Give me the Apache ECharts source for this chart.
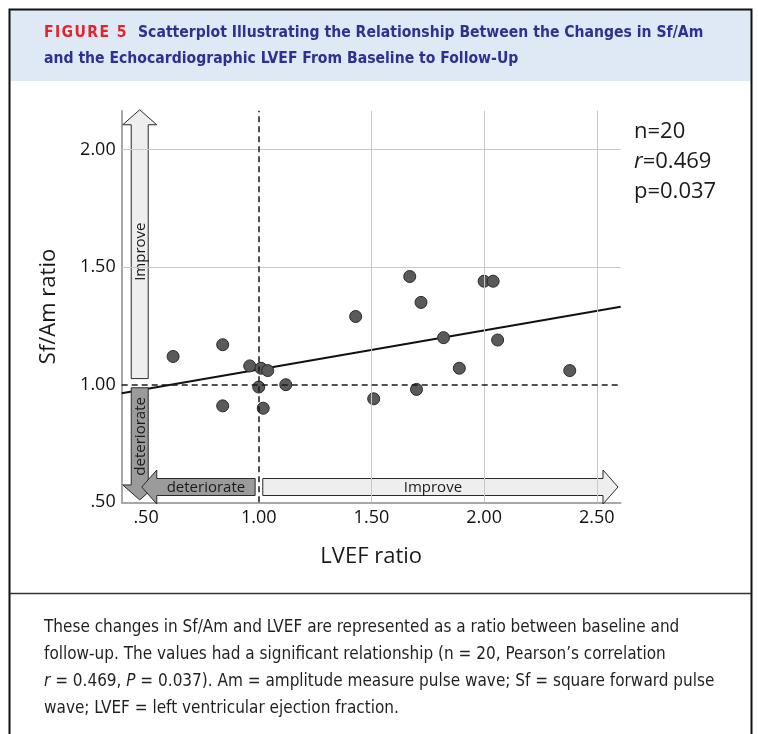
<!DOCTYPE html>
<html>
<head>
<meta charset="utf-8">
<script src="https://cdn.jsdelivr.net/npm/echarts@6/dist/echarts.min.js"></script>
<style>
  html, body { margin: 0; padding: 0; background: #fff; }
  #chart { width: 758px; height: 734px; }
</style>
</head>
<body>
<div id="chart"></div>
<script>
// LVEF ratio (x) and Sf/Am ratio (y) per patient
const lvefRatio = [0.62, 0.84, 0.84, 0.96, 1.01, 1.04, 1.00, 1.02, 1.12, 1.43,
                   1.51, 1.72, 1.82, 2.06, 1.89, 2.38, 1.70, 1.67, 2.00, 2.04];
const sfAmRatio = [1.12, 1.17, 0.91, 1.08, 1.07, 1.06, 0.99, 0.90, 1.00, 1.29,
                   0.94, 1.35, 1.20, 1.19, 1.07, 1.06, 0.98, 1.46, 1.44, 1.44];

// fitted line ends
const fitX = [0.392, 2.606];
const fitY = [0.964, 1.331];

// tick labels
const xTicks = [0.5, 1.0, 1.5, 2.0, 2.5];
const xTickLabels = ['.50', '1.00', '1.50', '2.00', '2.50'];
const yTicks = [0.5, 1.0, 1.5, 2.0];
const yTickLabels = ['.50', '1.00', '1.50', '2.00'];

// direction arrows: start x, start y, tip x, tip y
const arrowStart = [[0.472, 1.026], [0.472, 0.987], [0.984, 0.565], [1.018, 0.565]];
const arrowTip = [[0.472, 2.169], [0.472, 0.51], [0.481, 0.565], [2.594, 0.565]];
const arrowLabels = ['Improve', 'deteriorate', 'deteriorate', 'Improve'];
const arrowDark = [false, true, true, false];

const statLines = ['n=20', '{i|r}=0.469', 'p=0.037'];

const figureLabel = 'F\u200aI\u200aG\u200aU\u200aR\u200aE\u200a \u200a5';
const titleLine1 = 'Scatterplot Illustrating the Relationship Between the Changes in Sf/Am';
const titleLine2 = 'and the Echocardiographic LVEF From Baseline to Follow-Up';
const captionLines = [
  'These changes in Sf/Am and LVEF are represented as a ratio between baseline and',
  'follow-up. The values had a significant relationship (n = 20, Pearson\u2019s correlation',
  '{i|r} = 0.469, {i|P} = 0.037). Am = amplitude measure pulse wave; Sf = square forward pulse',
  'wave; LVEF = left ventricular ejection fraction.'
];

const FONT = '"Open Sans", "DejaVu Sans", sans-serif';
const NARROW = '"Liberation Sans Narrow", "DejaVu Sans Condensed", "Roboto Condensed", "Liberation Sans", sans-serif';

const points = lvefRatio.map((x, i) => [x, sfAmRatio[i]]);
const arrows = arrowStart.map((s, i) => [s[0], s[1], arrowTip[i][0], arrowTip[i][1], i]);

function renderArrow(params, api) {
  const p1 = api.coord([api.value(0), api.value(1)]);
  const p2 = api.coord([api.value(2), api.value(3)]);
  const idx = api.value(4);
  const dx = p2[0] - p1[0], dy = p2[1] - p1[1];
  const len = Math.hypot(dx, dy);
  const ux = dx / len, uy = dy / len;
  const nx = -uy, ny = ux;
  const sw = 8.5, hw = 17, hl = 15;
  const bx = p2[0] - ux * hl, by = p2[1] - uy * hl;
  const pts = [
    [p1[0] + nx * sw, p1[1] + ny * sw],
    [bx + nx * sw, by + ny * sw],
    [bx + nx * hw, by + ny * hw],
    [p2[0], p2[1]],
    [bx - nx * hw, by - ny * hw],
    [bx - nx * sw, by - ny * sw],
    [p1[0] - nx * sw, p1[1] - ny * sw]
  ];
  const vertical = Math.abs(dy) > Math.abs(dx);
  return {
    type: 'group',
    children: [
      {
        type: 'polygon',
        shape: { points: pts },
        style: { fill: arrowDark[idx] ? '#9b9b9b' : '#eeeeee', stroke: '#2a2a2a', lineWidth: 1 }
      },
      {
        type: 'text',
        x: (p1[0] + bx) / 2 + (vertical ? 1 : 0),
        y: (p1[1] + by) / 2 + (vertical ? 0 : 1),
        rotation: vertical ? Math.PI / 2 : 0,
        style: {
          text: arrowLabels[idx],
          fill: '#1a1a1a',
          font: '15px ' + FONT,
          align: 'center',
          verticalAlign: 'middle'
        }
      }
    ]
  };
}

const chart = echarts.init(document.getElementById('chart'), null, { renderer: 'canvas' });

chart.setOption({
  animation: false,
  backgroundColor: '#fff',
  textStyle: { fontFamily: FONT },
  grid: { left: 121.7, right: 137.3, top: 110.7, bottom: 231.7 },
  xAxis: {
    type: 'value',
    min: 0.392,
    max: 2.606,
    name: 'LVEF ratio',
    nameLocation: 'middle',
    nameGap: 54,
    nameTextStyle: { fontSize: 22, color: '#1a1a1a', verticalAlign: 'middle' },
    axisLine: { show: true, lineStyle: { color: '#8a8a8a', width: 1.5 } },
    axisTick: { show: false, customValues: xTicks },
    splitLine: { show: false },
    axisLabel: {
      customValues: xTicks,
      formatter: v => xTickLabels[xTicks.indexOf(+v.toFixed(2))],
      fontSize: 18,
      color: '#111',
      margin: 7
    }
  },
  yAxis: {
    type: 'value',
    min: 0.5,
    max: 2.165,
    name: 'Sf/Am ratio',
    nameLocation: 'middle',
    nameGap: 73,
    nameRotate: 90,
    nameTextStyle: { fontSize: 22, color: '#1a1a1a', verticalAlign: 'middle' },
    axisLine: { show: true, lineStyle: { color: '#8a8a8a', width: 1.5 } },
    axisTick: { show: false, customValues: yTicks },
    splitLine: { show: false },
    axisLabel: {
      customValues: yTicks,
      formatter: v => yTickLabels[yTicks.indexOf(+v.toFixed(2))],
      fontSize: 18,
      color: '#111',
      margin: 6
    }
  },
  graphic: [
    {
      type: 'rect',
      z: -10,
      shape: { x: 10, y: 10, width: 741, height: 71 },
      style: { fill: '#dfe9f5' }
    },
    {
      type: 'rect',
      z: 10,
      shape: { x: 9.5, y: 9.5, width: 742, height: 740 },
      style: { fill: 'none', stroke: '#111', lineWidth: 2 }
    },
    {
      type: 'line',
      z: 10,
      shape: { x1: 10, y1: 593.5, x2: 751, y2: 593.5 },
      style: { stroke: '#333', lineWidth: 1.5 }
    },
    {
      type: 'text',
      left: 44,
      top: 25,
      style: {
        text: figureLabel,
        font: 'bold 15.6px ' + NARROW,
        fill: '#e2242c'
      }
    },
    {
      type: 'text',
      left: 138,
      top: 25,
      style: {
        text: titleLine1,
        font: 'bold 15.6px ' + NARROW,
        fill: '#2e3191'
      }
    },
    {
      type: 'text',
      left: 44,
      top: 51,
      style: {
        text: titleLine2,
        font: 'bold 15.6px ' + NARROW,
        fill: '#2e3191'
      }
    },
    {
      type: 'text',
      left: 634,
      top: 117,
      style: {
        text: statLines.join('\n'),
        font: '22px ' + FONT,
        fill: '#1a1a1a',
        lineHeight: 30,
        rich: {
          i: { font: 'italic 22px ' + FONT, fill: '#1a1a1a', lineHeight: 30 }
        }
      }
    },
    {
      type: 'text',
      left: 44,
      top: 614,
      style: {
        text: captionLines.join('\n'),
        font: '17px ' + NARROW,
        fill: '#231f20',
        lineHeight: 27,
        rich: {
          i: { font: 'italic 17px ' + NARROW, fill: '#231f20', lineHeight: 27 }
        }
      }
    }
  ],
  series: [
    {
      name: 'fit',
      type: 'line',
      z: 1,
      data: fitX.map((x, i) => [x, fitY[i]]),
      symbol: 'none',
      lineStyle: { color: '#111', width: 2 },
      markLine: {
        silent: true,
        symbol: 'none',
        label: { show: false },
        lineStyle: { color: '#c9c9c9', width: 1, type: 'solid' },
        data: [{ xAxis: 1.5 }, { xAxis: 2.0 }, { xAxis: 2.5 }, { yAxis: 1.5 }, { yAxis: 2.0 }]
      }
    },
    {
      name: 'reference',
      type: 'line',
      z: 2,
      data: [],
      markLine: {
        silent: true,
        symbol: 'none',
        label: { show: false },
        lineStyle: { color: '#1a1a1a', width: 1.5, type: [6, 4] },
        data: [{ xAxis: 1.0 }, { yAxis: 1.0 }]
      }
    },
    {
      name: 'arrows',
      type: 'custom',
      z: 3,
      clip: false,
      renderItem: renderArrow,
      encode: { x: [0, 2], y: [1, 3] },
      data: arrows
    },
    {
      name: 'patients',
      type: 'scatter',
      z: 4,
      symbolSize: 12,
      itemStyle: { color: '#5a5a5a', borderColor: '#2a2a2a', borderWidth: 1, opacity: 1 },
      data: points
    }
  ]
});
</script>
</body>
</html>
